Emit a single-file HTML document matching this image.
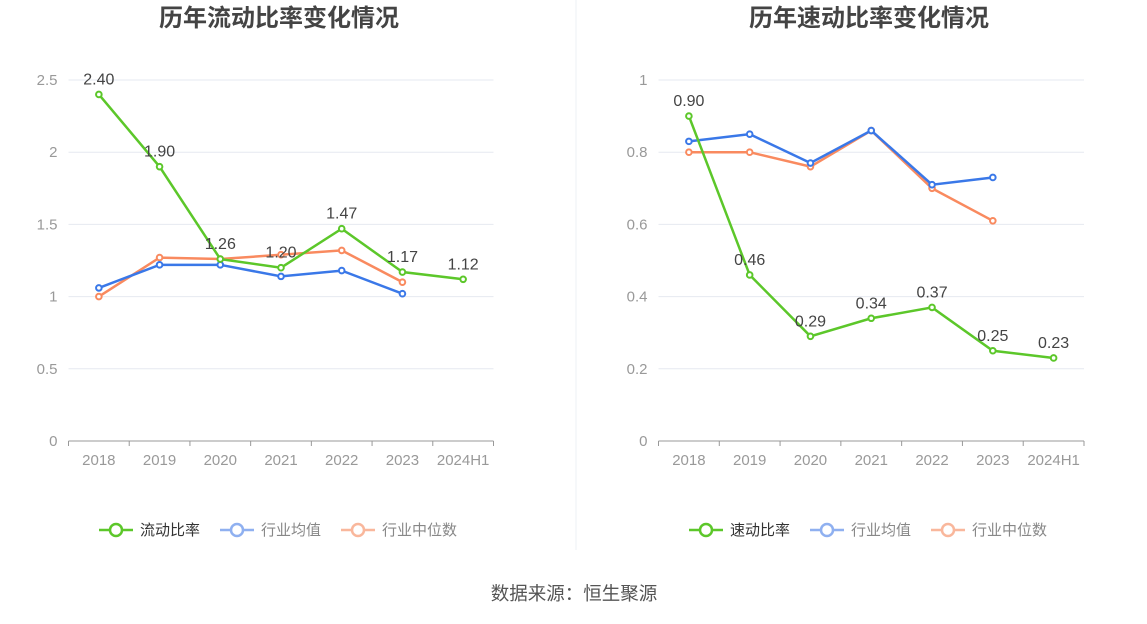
<!DOCTYPE html>
<html><head><meta charset="utf-8">
<style>
body{margin:0;background:#fff;width:1147px;height:619px;overflow:hidden;font-family:"Liberation Sans","Noto Sans CJK SC",sans-serif;}
svg text{font-family:"Liberation Sans","Noto Sans CJK SC",sans-serif;}
</style></head>
<body>
<svg id="c" width="1147" height="619">
<line x1="576" y1="0" x2="576" y2="550" stroke="#eef0f4"/>
<text x="574" y="600" text-anchor="middle" font-size="18.5" fill="#555">数据来源：恒生聚源</text>
</svg>
<script>
const categories=["2018","2019","2020","2021","2022","2023","2024H1"];
const currentRatio=[2.40,1.90,1.26,1.20,1.47,1.17,1.12];
const currentAvg=[1.06,1.22,1.22,1.14,1.18,1.02];
const currentMedian=[1.00,1.27,1.26,1.29,1.32,1.10];
const currentTicks=[0,0.5,1,1.5,2,2.5];
const quickRatio=[0.90,0.46,0.29,0.34,0.37,0.25,0.23];
const quickAvg=[0.83,0.85,0.77,0.86,0.71,0.73];
const quickMedian=[0.80,0.80,0.76,0.86,0.70,0.61];
const quickTicks=[0,0.2,0.4,0.6,0.8,1];

const svg=document.getElementById('c');
const NS="http://www.w3.org/2000/svg";
function mk(tag,attrs,parent){const e=document.createElementNS(NS,tag);for(const k in attrs)e.setAttribute(k,attrs[k]);(parent||svg).appendChild(e);return e;}

function chart(o){
  const g=mk('g',{});
  
  
  const L=o.left,R=o.right,T=80,B=441,max=o.ticks[o.ticks.length-1];
  const bw=(R-L)/categories.length;
  const x=i=>L+bw*(i+0.5);
  const y=v=>B-(v/max)*(B-T);
  const t=mk('text',{x:o.titleX,y:26,'text-anchor':'middle','font-size':24,'font-weight':'bold',fill:'#444'},g);
  t.textContent=o.title;
  
  
  o.ticks.forEach(v=>{
    if(v>0){const gl=mk('line',{x1:L,x2:R,y1:y(v),y2:y(v),stroke:'#e6e9f0'},g);
    
    }
    const tl=mk('text',{x:L-11,y:y(v)+5,'text-anchor':'end','font-size':15,fill:'#999'},g);
    tl.textContent=v;
    
    
  });
  const ax=mk('line',{x1:L,x2:R,y1:B,y2:B,stroke:'#999'},g);
  
  
  categories.forEach((c,i)=>{
    mk('line',{x1:L+bw*i,x2:L+bw*i,y1:B,y2:B+5,stroke:'#999'},g);
    const tl=mk('text',{x:x(i),y:B+24,'text-anchor':'middle','font-size':15,fill:'#999'},g);
    tl.textContent=c;
    
    
  });
  mk('line',{x1:R,x2:R,y1:B,y2:B+5,stroke:'#999'},g);
  const series=[[o.median,'#f98a5f','median-line'],[o.avg,'#3a78e8','average-line'],[o.main,'#5cc72a','main-line']];
  series.forEach(([d,col,nm])=>{
    const p=mk('polyline',{points:d.map((v,i)=>x(i)+','+y(v)).join(' '),fill:'none',stroke:col,'stroke-width':2.5},g);
    
    
    d.forEach((v,i)=>{
      const c=mk('circle',{cx:x(i),cy:y(v),r:2.8,fill:'#fff',stroke:col,'stroke-width':2},g);
      
      
    });
  });
  o.main.forEach((v,i)=>{
    const tl=mk('text',{x:x(i),y:y(v)-10,'text-anchor':'middle','font-size':16,fill:'#444'},g);
    tl.textContent=v.toFixed(2);
    
    
  });
  const legend=[[o.mainName,'#5cc72a','#333'],['行业均值','#8fb0f0','#888'],['行业中位数','#f9b79c','#888']];
  legend.forEach(([n,col,tc],k)=>{
    const lx=o.legendX+k*121;
    const lg=mk('g',{},g);
    
    
    mk('line',{x1:lx,x2:lx+34,y1:530,y2:530,stroke:col,'stroke-width':2.5},lg);
    mk('circle',{cx:lx+17,cy:530,r:6,fill:'#fff',stroke:col,'stroke-width':2.5},lg);
    const lt=mk('text',{x:lx+41,y:535,'font-size':15,fill:tc},lg);
    lt.textContent=n;
  });
}
chart({name:'current-ratio-chart',title:'历年流动比率变化情况',titleX:279,left:68.5,right:493.5,ticks:currentTicks,main:currentRatio,avg:currentAvg,median:currentMedian,mainName:'流动比率',legendX:99});
chart({name:'quick-ratio-chart',title:'历年速动比率变化情况',titleX:869,left:658.5,right:1084,ticks:quickTicks,main:quickRatio,avg:quickAvg,median:quickMedian,mainName:'速动比率',legendX:689});
</script>
</body></html>
